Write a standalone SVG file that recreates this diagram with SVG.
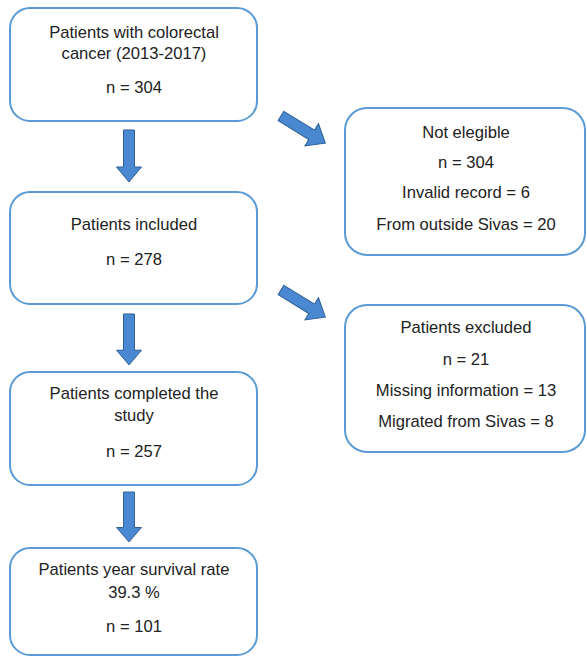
<svg xmlns="http://www.w3.org/2000/svg" width="587" height="658" viewBox="0 0 587 658">
<style>
.box{fill:#ffffff;stroke:#5b9bd5;stroke-width:2}
.arr{fill:#4a89d2;stroke:#2e5f95;stroke-width:1}
text{font-family:"Liberation Sans",Arial,sans-serif;font-size:16.6px;fill:#222222;text-anchor:middle}
</style>
<defs>
<path id="down" d="M-5.5,0 H5.5 V37 H12.5 L0,52 L-12.5,37 H-5.5 Z"/>
<path id="diag" d="M0,-5.5 H36 V-13 L52,0 L36,13 V5.5 H0 Z"/>
</defs>
<rect width="587" height="658" fill="#ffffff"/>
<g id="connectors">
<use href="#down" class="arr" x="129" y="130"/>
<use href="#down" class="arr" transform="translate(129,314) scale(1,0.98)"/>
<use href="#down" class="arr" transform="translate(129,492) scale(1,0.96)"/>
<use href="#diag" class="arr" transform="translate(281,116) rotate(31.5)"/>
<use href="#diag" class="arr" transform="translate(281,290) rotate(31.5)"/>
</g>
<g id="n1">
<rect class="box" x="10" y="8" width="247" height="113" rx="20"/>
<text x="134" y="38">Patients with colorectal</text>
<text x="134" y="59">cancer (2013-2017)</text>
<text x="134" y="93">n = 304</text>
</g>
<g id="n2">
<rect class="box" x="10" y="192" width="247" height="112" rx="20"/>
<text x="134" y="230">Patients included</text>
<text x="134" y="265">n = 278</text>
</g>
<g id="n3">
<rect class="box" x="10" y="372" width="247" height="113" rx="20"/>
<text x="134" y="399">Patients completed the</text>
<text x="134" y="421">study</text>
<text x="134" y="457">n = 257</text>
</g>
<g id="n4">
<rect class="box" x="10" y="548" width="247" height="107" rx="20"/>
<text x="134" y="575">Patients year survival rate</text>
<text x="134" y="598">39.3 %</text>
<text x="134" y="632">n = 101</text>
</g>
<g id="n5">
<rect class="box" x="345" y="108" width="240" height="147" rx="22"/>
<text x="466" y="138">Not elegible</text>
<text x="466" y="168">n = 304</text>
<text x="466" y="198">Invalid record = 6</text>
<text x="466" y="230">From outside Sivas = 20</text>
</g>
<g id="n6">
<rect class="box" x="345" y="305" width="240" height="147" rx="22"/>
<text x="466" y="333">Patients excluded</text>
<text x="466" y="365">n = 21</text>
<text x="466" y="396">Missing information = 13</text>
<text x="466" y="427">Migrated from Sivas = 8</text>
</g>
</svg>
